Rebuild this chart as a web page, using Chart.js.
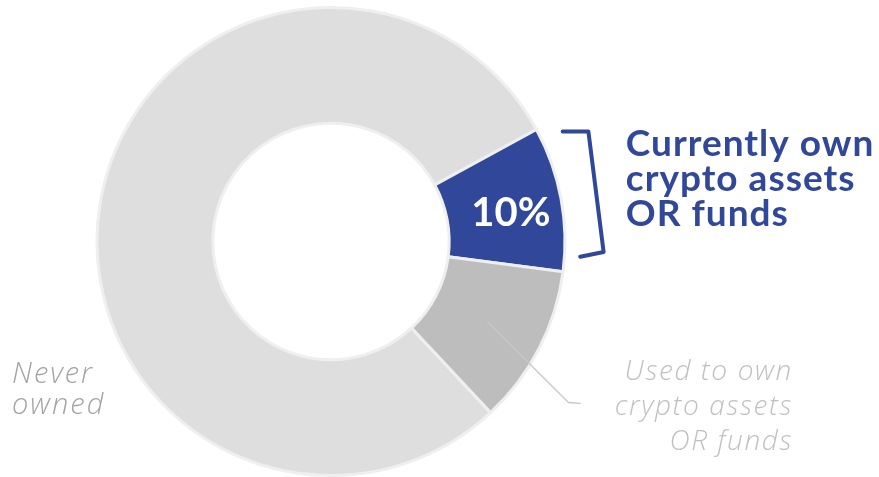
<!DOCTYPE html>
<html>
<head>
<meta charset="utf-8">
<script src="https://cdn.jsdelivr.net/npm/chart.js"></script>
<style>
  html, body { margin: 0; padding: 0; background: #fff; }
  #caja { position: relative; width: 879px; height: 477px; }
</style>
</head>
<body>
<div id="caja"><canvas id="myChart"></canvas></div>
<script>
const categorias = ['Never owned', 'Currently own crypto assets OR funds', 'Used to own crypto assets OR funds'];
const valores = [79, 10, 11];
const colores = ['#dedede', '#30479a', '#bdbdbd'];
const textoPorcentaje = '10%';
const lineasActual = ['Currently own', 'crypto assets', 'OR funds'];
const lineasAntes = ['Used to own', 'crypto assets', 'OR funds'];
const lineasNunca = ['Never', 'owned'];

const azul = '#30479a';
const fuente = 'Lato, "Open Sans", sans-serif';
const fuenteFina = '"Open Sans", Lato, sans-serif';

const myChartCtx = document.querySelector("#myChart").getContext('2d');

/* etiquetas dibujadas sobre el grafico */
const etiquetasPlugin = {
    id: 'etiquetas',
    afterDatasetsDraw(chart) {
        const ctx = chart.ctx;
        const arcos = chart.getDatasetMeta(0).data;
        const azulArco = arcos[1];
        const grisArco = arcos[2];
        const cx = azulArco.x;
        const cy = azulArco.y;
        const r = azulArco.outerRadius;

        ctx.save();

        // porcentaje dentro del arco azul
        const medio = (azulArco.startAngle + azulArco.endAngle) / 2;
        const rm = (azulArco.innerRadius + azulArco.outerRadius) / 2 + 7;
        ctx.fillStyle = '#ffffff';
        ctx.font = 'bold 40px ' + fuente;
        ctx.textAlign = 'center';
        ctx.textBaseline = 'middle';
        ctx.fillText(textoPorcentaje, cx + Math.cos(medio) * rm, cy + Math.sin(medio) * rm + 5);

        // corchete
        ctx.strokeStyle = azul;
        ctx.lineWidth = 4;
        ctx.lineJoin = 'round';
        ctx.lineCap = 'round';
        ctx.beginPath();
        ctx.moveTo(cx + 0.99 * r, cy - 0.47 * r);
        ctx.lineTo(cx + 1.1 * r, cy - 0.47 * r);
        ctx.lineTo(cx + 1.165 * r, cy + 0.045 * r);
        ctx.lineTo(cx + 1.065 * r, cy + 0.065 * r);
        ctx.stroke();

        // texto azul
        ctx.fillStyle = azul;
        ctx.font = 'bold 37px ' + fuente;
        ctx.letterSpacing = '1px';
        ctx.textAlign = 'left';
        ctx.textBaseline = 'alphabetic';
        for (let i = 0; i < lineasActual.length; i++) {
            ctx.fillText(lineasActual[i], cx + 1.26 * r, cy - 0.365 * r + i * 35);
        }

        // linea guia del arco gris
        const p = grisArco.tooltipPosition();
        ctx.strokeStyle = '#c8c8c8';
        ctx.lineWidth = 1.3;
        ctx.beginPath();
        ctx.moveTo(p.x, p.y);
        ctx.lineTo(cx + 1.015 * r, cy + 0.688 * r);
        ctx.lineTo(cx + 1.065 * r, cy + 0.692 * r);
        ctx.stroke();

        // texto gris a la derecha
        ctx.fillStyle = '#c0c0c0';
        ctx.font = 'italic 300 28px ' + fuenteFina;
        ctx.letterSpacing = '1.6px';
        ctx.textAlign = 'right';
        for (let i = 0; i < lineasAntes.length; i++) {
            ctx.fillText(lineasAntes[i], cx + 1.97 * r + 1, cy + 0.59 * r + i * 35);
        }

        // texto never owned
        ctx.fillStyle = '#a3a3a3';
        ctx.font = 'italic 300 29px ' + fuenteFina;
        ctx.letterSpacing = '2px';
        ctx.textAlign = 'left';
        for (let i = 0; i < lineasNunca.length; i++) {
            ctx.fillText(lineasNunca[i], 12, cy + 0.605 * r + i * 31);
        }

        ctx.restore();
    }
};

const myChart = new Chart(myChartCtx, {
    type: 'doughnut',
    data: {
        labels: categorias,
        datasets: [{
            data: valores,
            backgroundColor: colores,
            borderColor: '#efefef',
            borderWidth: 3
        }]
    },
    options: {
        responsive: true,
        maintainAspectRatio: false,
        animation: false,
        rotation: 137,
        cutout: '50.5%',
        layout: {
            padding: { left: 95, right: 312, top: 6, bottom: 0 }
        },
        plugins: {
            legend: { display: false },
            tooltip: { enabled: false }
        }
    },
    plugins: [etiquetasPlugin]
});
</script>
</body>
</html>
